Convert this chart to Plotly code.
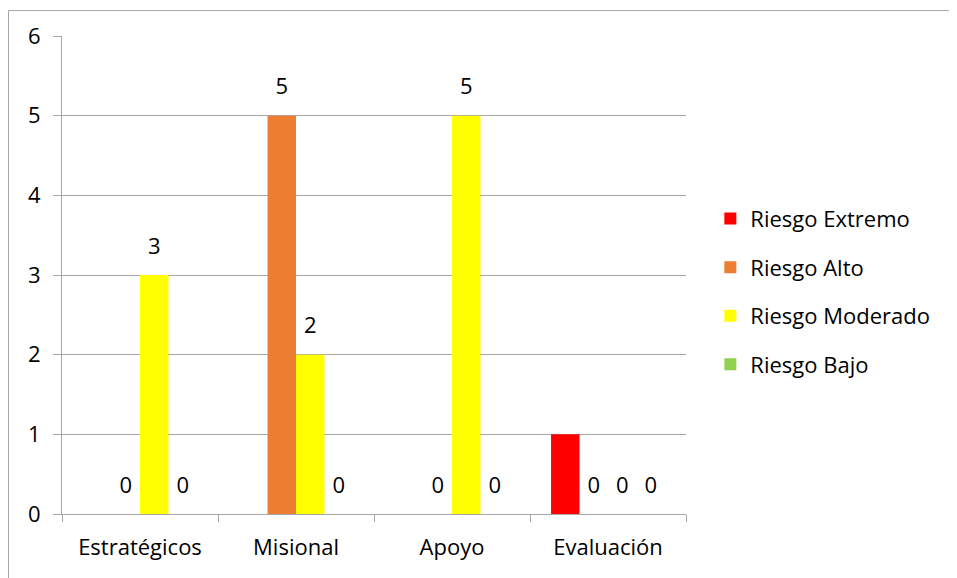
import plotly.graph_objects as go

categories = ["Estratégicos", "Misional", "Apoyo", "Evaluación"]
series_names = ["Riesgo Extremo", "Riesgo Alto", "Riesgo Moderado", "Riesgo Bajo"]
extremo = [0, 0, 0, 1]
alto = [0, 5, 0, 0]
moderado = [3, 2, 5, 0]
bajo = [0, 0, 0, 0]
values = [extremo, alto, moderado, bajo]
colors = ["#FF0000", "#ED7D31", "#FFFF00", "#92D050"]
show_labels = [False, True, True, True]
y_ticks = [0, 1, 2, 3, 4, 5, 6]

FONT = "Open Sans"
FS = 22
GAP = 0.27
fig = go.Figure()
for i, (name, vals) in enumerate(zip(series_names, values)):
    fig.add_trace(go.Bar(
        x=categories, y=vals, name=name,
        marker=dict(color=colors[i], line=dict(width=0)),
        offsetgroup=str(i),
        legendgroup=name,
    ))
for i, (name, vals) in enumerate(zip(series_names, values)):
    fig.add_trace(go.Scatter(
        x=categories, y=vals, mode="markers+text",
        marker=dict(size=24, opacity=0, color="white"),
        text=[str(v) for v in vals] if show_labels[i] else [""] * len(vals),
        textposition="top center",
        textfont=dict(family=FONT, size=FS, color="#000000"),
        offsetgroup=str(i), showlegend=False, hoverinfo="skip",
        cliponaxis=False,
    ))

fig.update_layout(
    width=949, height=570,
    margin=dict(l=54, r=271, t=26, b=64),
    paper_bgcolor="white", plot_bgcolor="white",
    barmode="group", bargap=GAP, bargroupgap=0,
    scattermode="group", scattergap=GAP,
    font=dict(family=FONT, size=FS, color="#000000"),
    legend=dict(x=1.039, y=0.465, xanchor="left", yanchor="middle",
                font=dict(family=FONT, size=FS), tracegroupgap=17,
                itemwidth=30, traceorder="grouped"),
    showlegend=True,
)
fig.update_xaxes(
    showgrid=False, showline=True, linecolor="#A6A6A6", linewidth=1,
    ticks="outside", ticklen=7, tickcolor="#A6A6A6", tickson="boundaries",
    tickfont=dict(family=FONT, size=FS), range=[-0.5, 3.5], ticklabelstandoff=14,
)
fig.update_yaxes(
    range=[0, 6], tickvals=y_ticks, showgrid=True, gridcolor="#A6A6A6", gridwidth=1,
    showline=True, linecolor="#A6A6A6", linewidth=1, ticks="outside", ticklen=8,
    tickcolor="#A6A6A6", tickfont=dict(family=FONT, size=FS), zeroline=False,
    ticklabelstandoff=8,
)
bx0 = (0.5 - 54) / 624
by1 = (506 - 0.5) / 480
fig.add_shape(type="line", xref="paper", yref="paper",
              x0=bx0, x1=1.6, y0=by1, y1=by1,
              line=dict(color="#A6A6A6", width=1), layer="below")
fig.add_shape(type="line", xref="paper", yref="paper",
              x0=bx0, x1=bx0, y0=-0.2, y1=by1,
              line=dict(color="#A6A6A6", width=1), layer="below")
fig.write_html("out.html")
